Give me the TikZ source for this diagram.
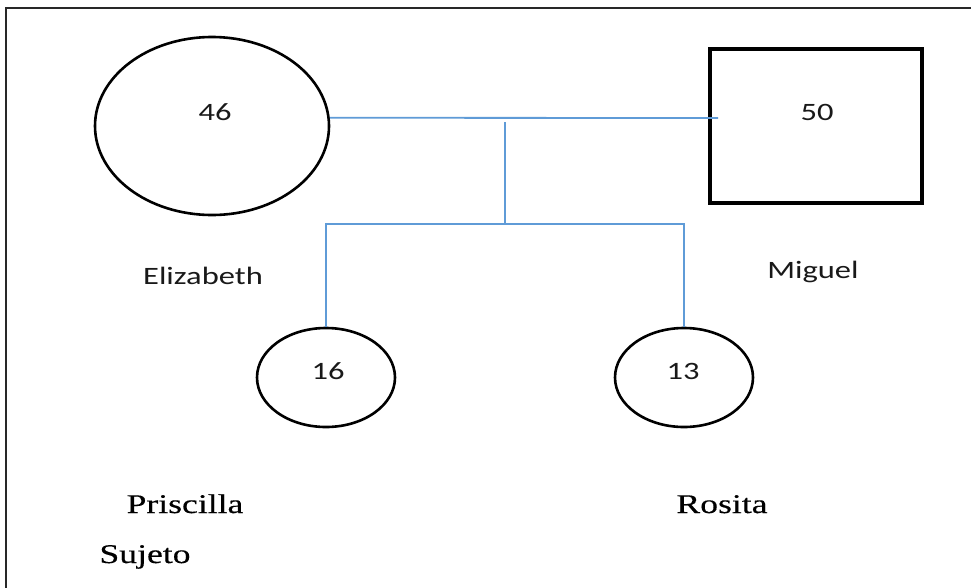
\documentclass[tikz,border=0pt]{standalone}
\usepackage{fontspec}
\newfontfamily\sansf[FakeStretch=1.3]{Carlito}
\newfontfamily\seriff[FakeStretch=1.32,FakeBold=0.4]{Liberation Serif}
\usetikzlibrary{shapes.geometric}
\definecolor{linkblue}{RGB}{95,155,215}
\definecolor{frame}{RGB}{40,40,40}
\tikzset{
  person/.style={draw=black, line width=2.6pt, inner sep=0pt},
  fem/.style={person, ellipse},
  mal/.style={person, rectangle, line width=3.2pt},
  age/.style={font=\sansf\fontsize{25}{25}\selectfont, inner sep=0pt, text=black!90},
  sname/.style={font=\sansf\fontsize{25}{25}\selectfont, inner sep=0pt, anchor=base, text=black!90},
  rname/.style={font=\seriff\fontsize{27}{27}\selectfont, inner sep=0pt, anchor=base, text=black},
  link/.style={draw=linkblue, line width=1.8pt}
}
\begin{document}
\begin{tikzpicture}[x=1pt, y=-1pt]
\useasboundingbox (0,0) rectangle (971,587);
\fill[white] (0,0) rectangle (971,587);
\draw[frame, line width=1.6pt] (6,8) rectangle (1000,620);

% parents
\node[fem, minimum width=234pt, minimum height=178pt] (E) at (212,126) {};
\node[mal, minimum width=212pt, minimum height=154pt] (M) at (816,126) {};
\node[age] (Eage) at (215,112) {46};
\node[age] (Mage) at (817,112) {50};

% children
\node[fem, minimum width=138pt, minimum height=99pt] (P) at (326,377.5) {};
\node[fem, minimum width=138pt, minimum height=99pt] (R) at (684,377.5) {};
\node[age] (Page) at (328,371) {16};
\node[age] (Rage) at (683,371) {13};

% names
\node[sname] (En) at (203,284) {Elizabeth};
\node[sname] (Mn) at (813,278) {Miguel};
\node[rname] (Pn) at (185,513) {Priscilla};
\node[rname] (Sn) at (145,563) {Sujeto};
\node[rname] (Rn) at (722,513) {Rosita};

% connectors
\coordinate (mr) at (718,118);
\coordinate (mid) at (505,122);
\coordinate (sib) at (505,224);
\draw[link] (E.4.8) -- (mr);
\draw[link] (mid) -- (sib);
\draw[link] (P.north) |- (sib) -| (R.north);
\end{tikzpicture}
\end{document}
